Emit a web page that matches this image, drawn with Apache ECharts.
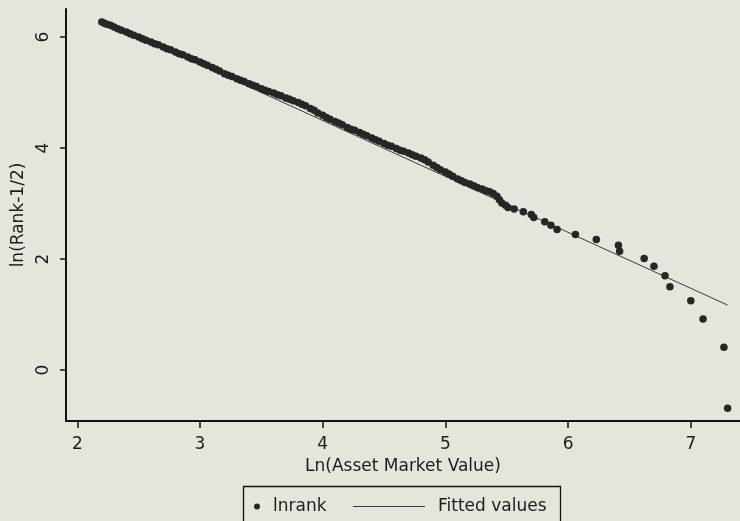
<!DOCTYPE html>
<html>
<head>
<meta charset="utf-8">
<script src="https://cdn.jsdelivr.net/npm/echarts@6/dist/echarts.min.js"></script>
<style>
html,body{margin:0;padding:0;background:#e6e5db;}
#chart{width:740px;height:521px;}
</style>
</head>
<body>
<div id="chart"></div>
<script>
// Tick labels
const xTicks = [2, 3, 4, 5, 6, 7];
const yTicks = [0, 2, 4, 6];

// lnrank scatter: Ln(Asset Market Value) vs ln(Rank-1/2)
const lnrankX = [
  2.20, 2.22, 2.24, 2.27, 2.30, 2.33, 2.36, 2.40, 2.43, 2.46, 2.50, 2.53, 2.56, 2.60, 2.63, 2.66, 2.70, 2.73, 2.76, 2.80,
  2.83, 2.86, 2.90, 2.93, 2.96, 3.00, 3.03, 3.06, 3.10, 3.13, 3.16, 3.20, 3.23, 3.26, 3.30, 3.33, 3.36, 3.40, 3.43, 3.46,
  3.50, 3.53, 3.56, 3.60, 3.63, 3.66, 3.70, 3.73, 3.76, 3.80, 3.83, 3.86, 3.90, 3.93, 3.96, 4.00, 4.03, 4.06, 4.10, 4.13,
  4.16, 4.20, 4.23, 4.26, 4.30, 4.33, 4.36, 4.40, 4.43, 4.46, 4.50, 4.53, 4.56, 4.60, 4.63, 4.66, 4.70, 4.73, 4.76, 4.80,
  4.83, 4.86, 4.90, 4.93, 4.96, 5.00, 5.03, 5.06, 5.10, 5.13, 5.16, 5.20, 5.23, 5.26, 5.30, 5.33, 5.36, 5.39, 5.42, 5.44,
  5.46, 5.49, 5.51, 5.56, 5.635, 5.70, 5.72, 5.81, 5.86, 5.91, 6.06, 6.23, 6.41, 6.42, 6.62, 6.70, 6.79, 6.83, 7.00, 7.10,
  7.27, 7.30
];
const lnrankY = [
  6.27, 6.25, 6.23, 6.21, 6.18, 6.15, 6.12, 6.09, 6.06, 6.03, 6.00, 5.97, 5.94, 5.91, 5.88, 5.86, 5.82, 5.79, 5.77, 5.73,
  5.70, 5.68, 5.64, 5.61, 5.59, 5.55, 5.52, 5.49, 5.45, 5.42, 5.39, 5.34, 5.31, 5.29, 5.25, 5.22, 5.20, 5.16, 5.13, 5.11,
  5.07, 5.04, 5.02, 4.99, 4.96, 4.94, 4.90, 4.88, 4.85, 4.82, 4.79, 4.76, 4.71, 4.68, 4.63, 4.59, 4.55, 4.52, 4.48, 4.45,
  4.42, 4.37, 4.34, 4.32, 4.28, 4.25, 4.22, 4.18, 4.15, 4.12, 4.08, 4.05, 4.03, 3.99, 3.96, 3.94, 3.91, 3.88, 3.85, 3.82,
  3.79, 3.75, 3.69, 3.65, 3.61, 3.57, 3.53, 3.49, 3.44, 3.41, 3.38, 3.35, 3.32, 3.29, 3.26, 3.23, 3.21, 3.18, 3.13, 3.07,
  3.01, 2.97, 2.93, 2.90, 2.85, 2.80, 2.75, 2.67, 2.61, 2.53, 2.44, 2.35, 2.25, 2.14, 2.01, 1.87, 1.70, 1.50, 1.25, 0.92,
  0.41, -0.69
];

// Fitted values line (endpoints)
const fittedX = [2.20, 7.30];
const fittedY = [6.31, 1.17];

const FONT = 'DejaVu Sans';
const TXT = '#1c1c1c';

const chart = echarts.init(document.getElementById('chart'), null, {renderer: 'canvas'});
chart.setOption({
  backgroundColor: '#e6e5db',
  animation: false,
  textStyle: {fontFamily: FONT, color: TXT},
  grid: {left: 66, right: 0, top: 9, bottom: 100, containLabel: false},
  xAxis: {
    type: 'value', min: 1.908, max: 7.401,
    name: 'Ln(Asset Market Value)', nameLocation: 'middle', nameGap: 32,
    nameTextStyle: {fontSize: 17, color: TXT, fontFamily: FONT},
    axisLine: {show: true, onZero: false, lineStyle: {color: '#111', width: 2}},
    axisTick: {show: true, length: 7, customValues: xTicks, lineStyle: {color: '#111', width: 1.5}},
    axisLabel: {customValues: xTicks, fontSize: 17, color: TXT, fontFamily: FONT, margin: 15},
    splitLine: {show: false}
  },
  yAxis: {
    type: 'value', min: -0.919, max: 6.505,
    name: 'ln(Rank-1/2)', nameLocation: 'middle', nameGap: 32, nameRotate: 90,
    nameTextStyle: {fontSize: 17, color: TXT, fontFamily: FONT},
    axisLine: {show: true, onZero: false, lineStyle: {color: '#111', width: 2}},
    axisTick: {show: true, length: 6, customValues: yTicks, lineStyle: {color: '#111', width: 1.5}},
    axisLabel: {customValues: yTicks, fontSize: 17, color: TXT, fontFamily: FONT, rotate: 90, margin: 14},
    splitLine: {show: false}
  },
  legend: [
    {
      data: [{name: 'lnrank', icon: 'circle'}], left: 254, top: 498, padding: 0,
      itemWidth: 22, itemHeight: 6,
      textStyle: {fontSize: 17, color: TXT, fontFamily: FONT}
    },
    {
      data: [{name: 'Fitted values', icon: 'rect'}], left: 353, top: 498, padding: 0,
      itemWidth: 72, itemHeight: 1.2,
      textStyle: {fontSize: 17, color: TXT, fontFamily: FONT, padding: [0, 0, 0, 8]}
    }
  ],
  graphic: [{
    type: 'rect', silent: true,
    shape: {x: 243.5, y: 486.5, width: 317, height: 45},
    style: {fill: 'none', stroke: '#111', lineWidth: 1.3}
  }],
  series: [
    {
      name: 'Fitted values', type: 'line', symbol: 'none', z: 2,
      data: fittedX.map((x, i) => [x, fittedY[i]]),
      lineStyle: {color: '#3a3a3a', width: 1},
      itemStyle: {color: '#3a3a3a'}
    },
    {
      name: 'lnrank', type: 'scatter', symbol: 'circle', symbolSize: 7.5, z: 3,
      data: lnrankX.map((x, i) => [x, lnrankY[i]]),
      itemStyle: {color: '#262626', opacity: 1}
    }
  ]
});
</script>
</body>
</html>
